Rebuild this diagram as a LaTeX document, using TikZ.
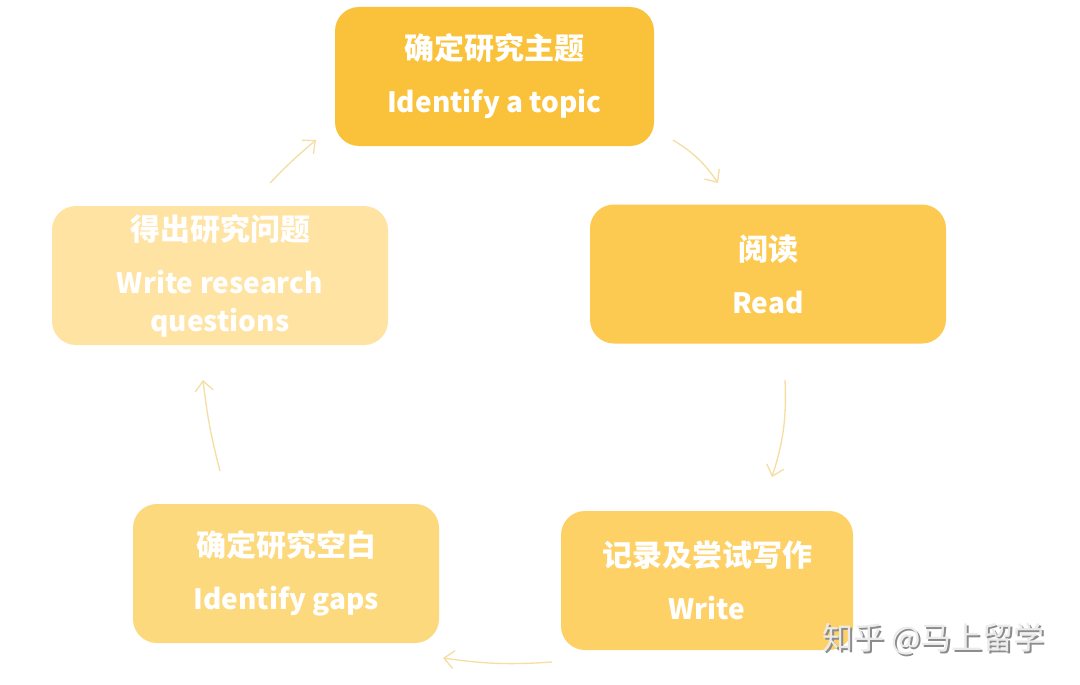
\documentclass[tikz,border=0pt]{standalone}
\usepackage{fontspec}
\setmainfont{Noto Sans CJK SC}
\usetikzlibrary{arrows.meta}
\definecolor{c1}{HTML}{FAC23A}
\definecolor{c2}{HTML}{FCCA50}
\definecolor{c3}{HTML}{FDD166}
\definecolor{c4}{HTML}{FDD97E}
\definecolor{c5}{HTML}{FEE3A3}
\definecolor{arr}{HTML}{F6DDA2}
\newcommand\zhtxt{\fontsize{30}{53}\selectfont}
\newcommand\entxt{\fontsize{28}{53}\selectfont}
\tikzset{
  stepbox/.style={rectangle, rounded corners=24pt, inner sep=0pt, text=white,
    font=\bfseries\fontsize{28}{53}\selectfont, align=center},
  flow/.style={draw=arr, line width=1.3pt, -{Straight Barb[length=10pt,width=18pt,line width=1.3pt]}},
}
\begin{document}
\begin{tikzpicture}[x=1pt,y=-1pt]
\useasboundingbox[fill=white] (0,0) rectangle (1080,685);
\node[stepbox, fill=c1, minimum width=319pt, minimum height=139pt] (topic) at (494.5,76.5) {{\zhtxt 确定研究主题}\\{\entxt Identify a topic}};
\node[stepbox, fill=c2, minimum width=356pt, minimum height=139pt] (read) at (768,274) {{\zhtxt 阅读}\\{\entxt Read}};
\node[stepbox, fill=c3, minimum width=292pt, minimum height=139pt] (write) at (707,580.5) {{\zhtxt 记录及尝试写作}\\{\entxt Write}};
\node[stepbox, fill=c4, minimum width=306pt, minimum height=139pt] (gaps) at (286,573.5) {{\zhtxt 确定研究空白}\\{\entxt Identify gaps}};
\node[stepbox, fill=c5, minimum width=336pt, minimum height=139pt] (quest) at (220,275.5) {{\zhtxt 得出研究问题}\\{\entxt Write research}\\[-15pt]{\entxt questions}};
\coordinate (a1s) at (673,140); \coordinate (a1e) at (718,183);
\coordinate (a2s) at (785,380); \coordinate (a2e) at (772,477);
\coordinate (a3s) at (552,662); \coordinate (a3e) at (443,658);
\coordinate (a4s) at (220,471); \coordinate (a4e) at (203,380);
\coordinate (a5s) at (270,183); \coordinate (a5e) at (316,140);
\draw[flow] (a1s) to[bend left=12] (a1e);
\draw[flow] (a2s) to[bend left=10] (a2e);
\draw[flow] (a3s) to[bend left=6] (a3e);
\draw[flow] (a4s) to[bend left=4] (a4e);
\draw[flow] (a5s) to[bend left=3] (a5e);
\node[anchor=west, text=black!45, font=\fontsize{31}{33}\selectfont, inner sep=0pt] (wm0) at (824,641) {知乎 @马上留学};
\node[anchor=west, text=black!8, font=\fontsize{31}{33}\selectfont, inner sep=0pt] (wm) at (822,639) {知乎 @马上留学};
\end{tikzpicture}
\end{document}
